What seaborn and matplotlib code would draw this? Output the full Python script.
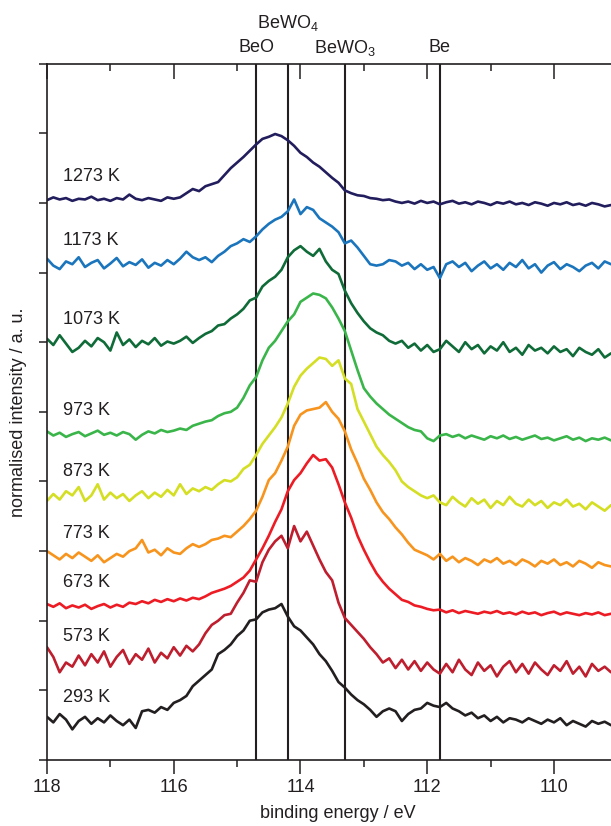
import numpy as np
import pandas as pd
import seaborn as sns
import matplotlib
matplotlib.use("Agg")
import matplotlib.pyplot as plt
from matplotlib.ticker import MultipleLocator
import matplotlib.transforms as mtransforms

# binding energy grid (eV), 0.1 eV steps, high -> low
energy = np.linspace(118.0, 109.1, 90)

temperatures = ["1273 K", "1173 K", "1073 K", "973 K", "873 K",
                "773 K", "673 K", "573 K", "293 K"]
colours = ["#221d5c", "#1b75bc", "#0f6b37", "#3ab54a", "#d4de23",
           "#f7941d", "#ed1c24", "#be1e2d", "#231f20"]

# stacked, normalised intensities (a. u.)
i_1273 = [8.04, 8.08, 8.05, 8.07, 8.03, 8.06, 8.05, 8.09, 8.04, 8.06, 8.03, 8.07, 8.05, 8.12, 8.06, 8.04, 8.07, 8.05, 8.03, 8.08, 8.06,
          8.08, 8.14, 8.20, 8.17, 8.24, 8.27, 8.30, 8.40, 8.50, 8.58, 8.66, 8.75, 8.84, 8.92, 8.95, 8.99, 8.96, 8.90, 8.82, 8.72,
          8.66, 8.58, 8.52, 8.44, 8.36, 8.29, 8.18, 8.14, 8.11, 8.10, 8.07, 8.06, 8.04, 8.05, 8.02, 8.00, 8.02, 7.99, 8.03, 8.00,
          8.02, 7.98, 8.01, 8.03, 7.99, 8.01, 7.98, 8.02, 8.00, 7.97, 8.01, 7.99, 8.02, 7.98, 8.00, 7.97, 8.01, 7.99, 7.96, 8.00,
          7.98, 8.01, 7.97, 7.99, 7.96, 8.00, 7.98, 7.95, 7.97]
i_1173 = [7.20, 7.10, 7.05, 7.16, 7.12, 7.22, 7.08, 7.14, 7.18, 7.06, 7.13, 7.21, 7.09, 7.15, 7.11, 7.19, 7.07, 7.14, 7.10, 7.18, 7.12,
          7.20, 7.30, 7.22, 7.18, 7.22, 7.15, 7.24, 7.30, 7.38, 7.42, 7.48, 7.44, 7.52, 7.62, 7.70, 7.76, 7.80, 7.88, 8.05, 7.84,
          7.94, 7.90, 7.78, 7.72, 7.66, 7.58, 7.42, 7.46, 7.36, 7.24, 7.12, 7.10, 7.12, 7.18, 7.16, 7.10, 7.14, 7.05, 7.12, 7.04,
          7.08, 6.92, 7.12, 7.16, 7.08, 7.14, 7.02, 7.10, 7.16, 7.06, 7.12, 7.04, 7.14, 7.08, 7.18, 7.06, 7.12, 7.00, 7.10, 7.15,
          7.05, 7.12, 7.08, 7.02, 7.10, 7.14, 7.06, 7.16, 7.12]
i_1073 = [6.05, 5.96, 6.10, 5.98, 5.86, 5.92, 6.02, 5.94, 6.06, 6.00, 5.88, 6.14, 5.96, 6.04, 5.93, 6.02, 5.97, 6.06, 5.95, 6.01, 5.98,
          6.02, 6.08, 5.99, 6.06, 6.12, 6.16, 6.24, 6.26, 6.34, 6.40, 6.48, 6.60, 6.64, 6.80, 6.88, 6.94, 7.04, 7.22, 7.32, 7.38,
          7.30, 7.24, 7.34, 7.16, 7.04, 6.98, 6.74, 6.56, 6.42, 6.30, 6.20, 6.14, 6.10, 6.02, 5.98, 6.02, 5.92, 5.98, 5.88, 5.96,
          5.86, 5.90, 6.02, 5.94, 5.86, 6.00, 5.90, 5.96, 5.84, 5.94, 5.88, 6.00, 5.86, 5.92, 5.82, 5.96, 5.88, 5.92, 5.84, 5.94,
          5.86, 5.90, 5.80, 5.92, 5.86, 5.82, 5.90, 5.78, 5.84]
i_973 = [4.72, 4.66, 4.70, 4.64, 4.68, 4.71, 4.65, 4.69, 4.73, 4.67, 4.70, 4.66, 4.71, 4.68, 4.60, 4.67, 4.72, 4.69, 4.74, 4.71, 4.73,
         4.76, 4.74, 4.80, 4.83, 4.86, 4.88, 4.94, 4.98, 5.00, 5.06, 5.20, 5.38, 5.50, 5.74, 5.92, 6.02, 6.16, 6.30, 6.40, 6.58,
         6.64, 6.70, 6.68, 6.63, 6.50, 6.34, 6.16, 5.88, 5.60, 5.34, 5.22, 5.12, 5.04, 4.96, 4.90, 4.84, 4.78, 4.74, 4.72, 4.62,
         4.58, 4.66, 4.68, 4.64, 4.67, 4.62, 4.66, 4.63, 4.60, 4.65, 4.62, 4.66, 4.61, 4.64, 4.60, 4.63, 4.66, 4.61, 4.63, 4.59,
         4.62, 4.65, 4.60, 4.63, 4.58, 4.62, 4.60, 4.63, 4.59]
i_873 = [3.72, 3.82, 3.74, 3.86, 3.80, 3.92, 3.72, 3.80, 3.96, 3.74, 3.84, 3.76, 3.82, 3.72, 3.80, 3.86, 3.76, 3.84, 3.78, 3.88, 3.80,
         3.96, 3.82, 3.90, 3.86, 3.92, 3.88, 3.96, 4.02, 4.00, 4.06, 4.18, 4.24, 4.38, 4.54, 4.66, 4.78, 4.92, 5.12, 5.36, 5.52,
         5.62, 5.70, 5.78, 5.76, 5.66, 5.74, 5.48, 5.40, 5.04, 4.86, 4.68, 4.50, 4.38, 4.28, 4.16, 4.00, 3.92, 3.86, 3.80, 3.76,
         3.80, 3.70, 3.66, 3.78, 3.70, 3.64, 3.76, 3.68, 3.74, 3.62, 3.72, 3.66, 3.78, 3.68, 3.64, 3.74, 3.66, 3.72, 3.62, 3.70,
         3.66, 3.74, 3.64, 3.68, 3.60, 3.70, 3.64, 3.58, 3.66]
i_773 = [3.00, 2.94, 2.88, 2.96, 2.90, 2.98, 2.92, 2.86, 2.94, 2.84, 2.90, 2.96, 2.92, 3.00, 3.04, 3.16, 2.98, 3.02, 2.94, 3.04, 2.98,
         2.96, 3.04, 3.10, 3.06, 3.10, 3.16, 3.18, 3.22, 3.20, 3.28, 3.36, 3.46, 3.58, 3.78, 4.02, 4.12, 4.30, 4.50, 4.80, 4.96,
         5.02, 5.04, 5.06, 5.14, 5.00, 4.90, 4.72, 4.46, 4.26, 4.04, 3.88, 3.70, 3.56, 3.46, 3.34, 3.24, 3.12, 3.02, 2.98, 2.94,
         2.88, 2.96, 2.86, 2.92, 2.84, 2.90, 2.86, 2.80, 2.88, 2.84, 2.90, 2.82, 2.86, 2.80, 2.88, 2.84, 2.78, 2.86, 2.82, 2.88,
         2.80, 2.84, 2.78, 2.86, 2.82, 2.76, 2.84, 2.80, 2.78]
i_673 = [2.24, 2.20, 2.25, 2.18, 2.22, 2.19, 2.23, 2.17, 2.21, 2.24, 2.19, 2.23, 2.20, 2.26, 2.24, 2.28, 2.25, 2.30, 2.27, 2.31, 2.28,
         2.32, 2.29, 2.33, 2.31, 2.35, 2.40, 2.43, 2.46, 2.50, 2.56, 2.62, 2.72, 2.88, 3.04, 3.22, 3.42, 3.60, 3.86, 4.02, 4.12,
         4.26, 4.38, 4.30, 4.32, 4.20, 3.96, 3.70, 3.48, 3.22, 3.02, 2.84, 2.68, 2.56, 2.46, 2.38, 2.30, 2.27, 2.22, 2.20, 2.17,
         2.15, 2.16, 2.12, 2.15, 2.11, 2.14, 2.12, 2.10, 2.13, 2.11, 2.14, 2.10, 2.12, 2.09, 2.13, 2.10, 2.12, 2.08, 2.11, 2.13,
         2.09, 2.12, 2.10, 2.08, 2.11, 2.09, 2.12, 2.08, 2.10]
i_573 = [1.62, 1.48, 1.26, 1.40, 1.34, 1.50, 1.36, 1.52, 1.40, 1.56, 1.34, 1.48, 1.58, 1.38, 1.52, 1.44, 1.60, 1.40, 1.54, 1.46, 1.62,
         1.50, 1.64, 1.56, 1.66, 1.82, 1.94, 2.00, 2.08, 2.10, 2.26, 2.40, 2.58, 2.56, 2.84, 3.02, 3.14, 3.22, 3.04, 3.36, 3.14,
         3.28, 3.08, 2.88, 2.70, 2.58, 2.26, 2.04, 1.94, 1.84, 1.74, 1.62, 1.52, 1.40, 1.46, 1.32, 1.44, 1.30, 1.42, 1.28, 1.40,
         1.30, 1.24, 1.38, 1.26, 1.44, 1.30, 1.22, 1.40, 1.28, 1.36, 1.20, 1.34, 1.42, 1.26, 1.38, 1.24, 1.40, 1.30, 1.22, 1.36,
         1.28, 1.42, 1.24, 1.34, 1.20, 1.38, 1.28, 1.34, 1.26]
i_293 = [0.62, 0.54, 0.66, 0.58, 0.44, 0.56, 0.62, 0.52, 0.60, 0.54, 0.64, 0.56, 0.50, 0.58, 0.46, 0.70, 0.72, 0.68, 0.76, 0.72, 0.82,
         0.86, 0.92, 1.06, 1.14, 1.22, 1.30, 1.52, 1.58, 1.66, 1.78, 1.86, 2.00, 2.02, 2.12, 2.16, 2.18, 2.24, 2.06, 1.92, 1.86,
         1.76, 1.66, 1.52, 1.42, 1.28, 1.12, 1.04, 0.94, 0.86, 0.80, 0.72, 0.62, 0.70, 0.74, 0.70, 0.56, 0.66, 0.72, 0.74, 0.82,
         0.78, 0.76, 0.82, 0.74, 0.70, 0.64, 0.68, 0.60, 0.64, 0.56, 0.62, 0.54, 0.60, 0.58, 0.54, 0.60, 0.56, 0.52, 0.58, 0.54,
         0.60, 0.50, 0.56, 0.52, 0.48, 0.56, 0.52, 0.55, 0.50]
spectra = [i_1273, i_1173, i_1073, i_973, i_873, i_773, i_673, i_573, i_293]

# reference binding energies of the species
ref_names = ["BeO", "BeWO$_4$", "BeWO$_3$", "Be"]
ref_energy = [114.7, 114.2, 113.3, 111.8]

frames = []
for t, vals in zip(temperatures, spectra):
    frames.append(pd.DataFrame({"energy": energy, "intensity": vals, "temperature": t}))
df = pd.concat(frames, ignore_index=True)

sns.set_style("ticks")
plt.rcParams["font.family"] = ["Liberation Sans", "DejaVu Sans"]
plt.rcParams["mathtext.default"] = "regular"
plt.rcParams["font.size"] = 13

fig = plt.figure(figsize=(6.11, 8.26), dpi=100)
ax = fig.add_axes([0.0769, 0.0799, 0.9231, 0.843])

for e in ref_energy:
    ax.axvline(e, color="#231f20", lw=1.5, zorder=1)

sns.lineplot(data=df, x="energy", y="intensity", hue="temperature",
             palette=dict(zip(temperatures, colours)), hue_order=temperatures,
             sort=False, estimator=None, lw=1.9, legend=False, ax=ax, zorder=2)

# temperature labels just above each spectrum's left baseline
for t, vals in zip(temperatures, spectra):
    ax.text(117.75, np.mean(vals[:10]) + 0.33, t, ha="left", va="center",
            fontsize=13, color="#231f20")

# species labels above the top axis
trans = mtransforms.blended_transform_factory(ax.transData, ax.transAxes)
label_y = [1.023, 1.059, 1.023, 1.023]
for name, e, yy in zip(ref_names, ref_energy, label_y):
    ax.text(e, yy, name, transform=trans, ha="center", va="center",
            fontsize=13, color="#231f20", clip_on=False)

ax.set_xlim(118, 109.1)
ax.set_ylim(0, 10)
ax.xaxis.set_major_locator(MultipleLocator(2))
ax.xaxis.set_minor_locator(MultipleLocator(1))
ax.yaxis.set_major_locator(MultipleLocator(1))
ax.set_yticklabels([])
ax.tick_params(axis="x", which="major", direction="out", length=10, width=1.1,
               color="#231f20", labelcolor="#231f20", pad=4, labelsize=13)
ax.tick_params(axis="x", which="minor", direction="out", length=5, width=1.1, color="#231f20")
ax.tick_params(axis="y", which="major", direction="out", length=5.8, width=1.1, color="#231f20")

sec = ax.secondary_xaxis("top")
sec.xaxis.set_major_locator(MultipleLocator(2))
sec.xaxis.set_minor_locator(MultipleLocator(1))
sec.tick_params(axis="x", which="major", direction="in", length=10.5, width=1.1, color="#231f20", labeltop=False)
sec.tick_params(axis="x", which="minor", direction="in", length=5.3, width=1.1, color="#231f20")
sec.spines["top"].set_linewidth(1.2)
sec.spines["top"].set_color("#231f20")

ax.spines["right"].set_visible(False)
ax.spines["top"].set_visible(False)
for s in ["left", "bottom"]:
    ax.spines[s].set_linewidth(1.2)
    ax.spines[s].set_color("#231f20")

ax.set_xlabel("binding energy / eV", fontsize=13, color="#231f20")
ax.set_ylabel("normalised intensity / a. u.", fontsize=13, color="#231f20")
ax.xaxis.set_label_coords(0.516, -0.064)
ax.yaxis.set_label_coords(-0.036, 0.5)

fig.savefig("out.png", dpi=100)
